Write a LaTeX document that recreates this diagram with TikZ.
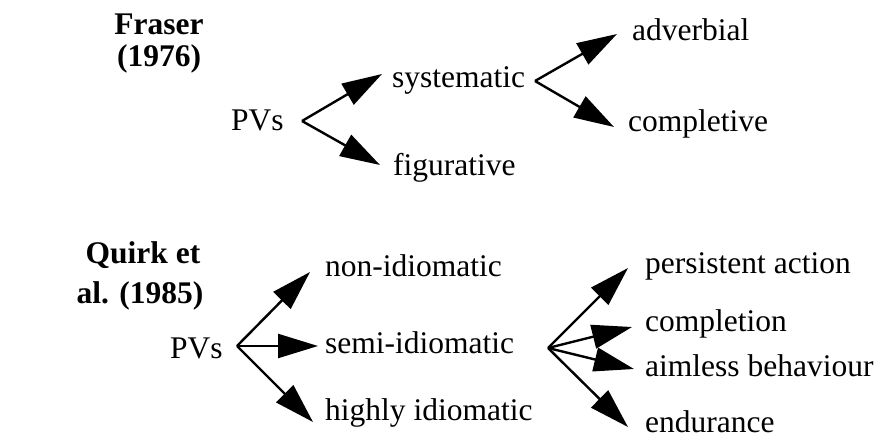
\documentclass[tikz,border=0pt]{standalone}
\usepackage{fontspec}
\setmainfont{Liberation Serif}
\usetikzlibrary{arrows.meta}
\begin{document}
\begin{tikzpicture}[x=1pt,y=-1pt,
  lbl/.style={anchor=base west,inner sep=0pt,font=\fontsize{31.5}{36}\selectfont},
  head/.style={anchor=base,inner sep=0pt,font=\fontsize{31.5}{36}\selectfont\bfseries},
  arr/.style={line width=2.4pt,-{Triangle[length=40pt,width=24pt]}}]
\useasboundingbox (0,0) rectangle (877,446);
% Fraser
\node[head] (fr1) at (159,35) {Fraser};
\node[head] (fr2) at (159,67) {(1976)};
\node[lbl] (pv1) at (231,131) {PVs};
\node[lbl] (sys) at (392,88) {systematic};
\node[lbl] (fig) at (393,176) {figurative};
\node[lbl] (adv) at (632,41) {adverbial};
\node[lbl] (com) at (628,132) {completive};
\coordinate (f1) at (302,121);
\coordinate (f1a) at (382,74);
\coordinate (f1b) at (380,165);
\coordinate (f2) at (535,81);
\coordinate (f2a) at (617,34);
\coordinate (f2b) at (614,127);
\draw[arr] (f1) -- (f1a);
\draw[arr] (f1) -- (f1b);
\draw[arr] (f2) -- (f2a);
\draw[arr] (f2) -- (f2b);
% Quirk
\node[head] (qu1) at (143,263) {Quirk et};
\node[head] (qu2) at (140,303) {al. (1985)};
\node[lbl] (pv2) at (170,358) {PVs};
\node[lbl] (non) at (325,276) {non-idiomatic};
\node[lbl] (sem) at (325,353) {semi-idiomatic};
\node[lbl] (hig) at (325,420) {highly idiomatic};
\node[lbl] (per) at (645,273) {persistent action};
\node[lbl] (cpl) at (645,331) {completion};
\node[lbl] (aim) at (645,376) {aimless behaviour};
\node[lbl] (end) at (645,432) {endurance};
\coordinate (q1) at (237,346);
\coordinate (q1a) at (310,272);
\coordinate (q1b) at (318,346);
\coordinate (q1c) at (313,422);
\coordinate (q2) at (548,348);
\coordinate (q2a) at (628,268);
\coordinate (q2b) at (632,327);
\coordinate (q2c) at (634,369);
\coordinate (q2d) at (628,427);
\draw[arr] (q1) -- (q1a);
\draw[arr] (q1) -- (q1b);
\draw[arr] (q1) -- (q1c);
\draw[arr] (q2) -- (q2a);
\draw[arr] (q2) -- (q2b);
\draw[arr] (q2) -- (q2c);
\draw[arr] (q2) -- (q2d);
\end{tikzpicture}
\end{document}
